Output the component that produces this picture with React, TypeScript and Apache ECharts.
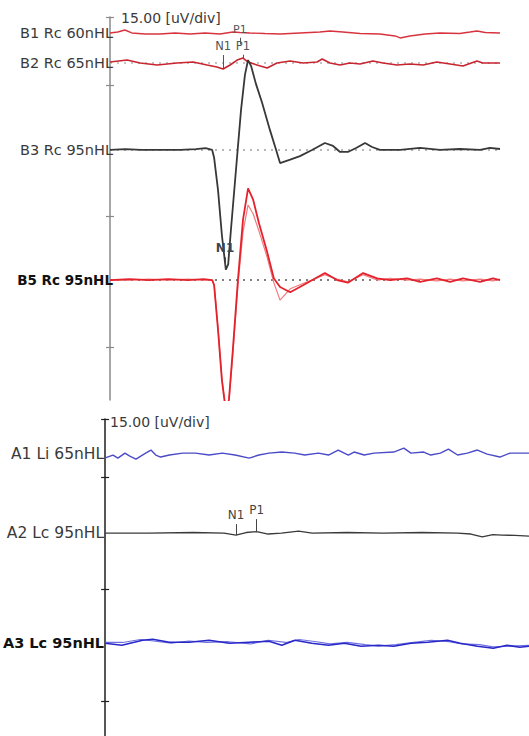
import React, { useEffect, useRef } from "react";
import * as echarts from "echarts";

// ---------- data (time in ms, amplitude in µV relative to each trace baseline, positive up) ----------
const SCALE_LABEL = "15.00 [uV/div]";

const TOP_TRACE_NAMES = ["B1 Rc 60nHL", "B2 Rc 65nHL", "B3 Rc 95nHL", "B5 Rc 95nHL"];
const TOP_BASELINES = [-1.83, -5.27, -15.23, -30.13];
const TOP_TICKS = [0, -7.8, -22.8, -37.8];
const TOP_RANGE = [-43.87, 0];
const TOP_TIME = [0, 10];

const BOTTOM_TRACE_NAMES = ["A1 Li 65nHL", "A2 Lc 95nHL", "A3 Lc 95nHL"];
const BOTTOM_BASELINES = [-4.69, -15.26, -29.99];
const BOTTOM_TICKS = [0, -7.75, -22.75, -37.75];
const BOTTOM_RANGE = [-42.4, 0];
const BOTTOM_TIME = [0, 9.62];

const B1: [number, number][] = [
  [0, 0], [0.2, 0.11], [0.38, 0.34], [0.56, 0], [0.9, -0.11], [1.28, -0.11], [1.67, 0], [2.05, -0.11],
  [2.44, 0], [2.82, -0.11], [3.15, 0.11], [3.33, 0.06], [3.59, 0], [3.97, -0.06], [4.36, -0.11], [4.87, 0],
  [5.38, 0.11], [5.64, 0.23], [5.97, 0.11], [6.41, -0.06], [6.92, -0.11], [7.31, -0.34], [7.44, -0.57],
  [7.69, -0.34], [8.08, -0.11], [8.46, 0], [8.97, -0.06], [9.23, 0.11], [9.41, 0.23], [9.62, 0.06], [10, 0],
];

const B2: [number, number][] = [
  [0, 0.11], [0.44, 0.34], [0.77, 0], [1.21, -0.23], [1.72, 0], [2.13, 0.11], [2.49, -0.23], [2.74, -0.46],
  [2.9, -0.69], [3.08, -0.23], [3.26, 0.34], [3.41, 0.57], [3.54, 0.11], [3.77, -0.23], [4.03, -0.57],
  [4.28, 0], [4.62, 0.23], [4.95, 0], [5.31, 0.11], [5.44, 0.46], [5.64, 0], [5.9, -0.23], [6.15, 0],
  [6.41, -0.11], [6.74, 0.23], [7.0, 0], [7.36, -0.23], [7.69, -0.11], [8.03, -0.23], [8.38, 0.11],
  [8.72, -0.11], [9.05, -0.34], [9.41, 0.23], [9.56, 0], [10, 0],
];

const B3: [number, number][] = [
  [0, 0], [0.4, 0.1], [0.8, 0], [1.3, 0], [1.8, 0], [2.2, 0.1], [2.45, 0.2], [2.62, 0], [2.67, -0.9],
  [2.77, -4.6], [2.87, -9.8], [2.97, -13.7], [3.03, -13.1], [3.1, -9.2], [3.23, -2.3], [3.36, 4.6],
  [3.46, 8.6], [3.54, 10.3], [3.62, 9.6], [3.74, 7.6], [3.9, 5.4], [4.1, 2.3], [4.26, 0], [4.36, -1.5],
  [4.62, -1.1], [4.87, -0.7], [5.18, 0], [5.51, 0.8], [5.72, 0.46], [5.9, -0.23], [6.1, -0.23],
  [6.31, 0.23], [6.54, 0.8], [6.72, 0.34], [6.92, 0], [7.44, 0], [7.95, 0.23], [8.46, 0], [8.97, 0.11],
  [9.49, 0], [9.74, 0.23], [10, 0.11],
];

const B5_RUN1: [number, number][] = [
  [0, 0], [0.5, 0.1], [1, 0], [1.5, 0.1], [2, 0], [2.4, 0.1], [2.62, 0], [2.67, -0.6], [2.77, -5.7],
  [2.87, -11.5], [2.97, -15.0], [3.05, -13.7], [3.15, -8.0], [3.28, 0], [3.41, 6.9], [3.54, 10.5],
  [3.67, 9.2], [3.82, 6.5], [4.03, 3.2], [4.2, 0.2], [4.36, -0.8], [4.62, -1.4], [4.95, -0.6],
  [5.51, 0.8], [5.82, 0], [6.1, -0.3], [6.49, 0.8], [6.85, 0.2], [7.18, 0], [7.62, 0.2], [7.95, -0.2],
  [8.38, 0.2], [8.72, -0.2], [9.05, 0.2], [9.49, -0.2], [9.82, 0.2], [10, 0],
];

const B5_RUN2: [number, number][] = [
  [0, 0], [0.5, 0], [1, 0.1], [1.5, 0], [2, 0.1], [2.4, 0], [2.62, 0], [2.67, -0.5], [2.77, -5.5],
  [2.87, -11.3], [2.97, -14.8], [3.05, -13.9], [3.15, -8.4], [3.28, -0.6], [3.41, 5.5], [3.54, 8.6],
  [3.67, 7.6], [3.82, 5.6], [4.03, 2.6], [4.2, -0.3], [4.36, -2.3], [4.62, -1.0], [4.95, -0.4],
  [5.51, 0.6], [5.82, 0.1], [6.1, -0.2], [6.49, 0.6], [6.85, 0], [7.18, 0.2], [7.62, 0], [7.95, 0.1],
  [8.38, -0.1], [8.72, 0.1], [9.05, -0.1], [9.49, 0.1], [9.82, -0.1], [10, 0.1],
];

const A1: [number, number][] = [
  [0, -0.5], [0.18, -0.13], [0.29, -0.54], [0.45, 0.13], [0.56, -0.27], [0.7, -0.67], [0.92, 0.13],
  [1.04, 0.54], [1.15, -0.13], [1.26, -0.4], [1.46, -0.13], [1.76, 0.13], [2.05, 0.13], [2.36, -0.13],
  [2.66, 0.13], [2.95, -0.13], [3.27, -0.54], [3.49, -0.13], [3.72, 0.13], [4.01, 0.27], [4.3, 0.13],
  [4.53, -0.13], [4.84, 0.13], [5.07, -0.13], [5.29, 0.54], [5.52, -0.13], [5.65, 0.27], [5.88, -0.13],
  [6.1, 0.13], [6.55, 0.27], [6.78, 0.8], [6.94, 0.13], [7.23, 0.27], [7.39, -0.13], [7.61, 0.13],
  [7.79, 0.67], [8.0, -0.13], [8.22, 0.13], [8.45, 0.54], [8.67, 0], [8.96, -0.4], [9.19, 0.13],
  [9.48, 0.13], [9.62, 0.13],
];

const A2: [number, number][] = [
  [0, 0], [1, 0], [2, 0.07], [2.7, 0], [2.97, -0.27], [3.2, 0.07], [3.44, 0.2], [3.7, -0.13], [4.0, 0],
  [4.39, 0.27], [4.7, 0], [5.5, 0.07], [6.3, 0], [7.2, 0.07], [8.0, 0], [8.3, -0.13], [8.56, -0.5],
  [8.8, -0.2], [9.0, -0.27], [9.3, -0.3], [9.62, -0.4],
];

const A3_RUN1: [number, number][] = [
  [0, 0], [0.38, -0.27], [0.85, 0.4], [1.08, 0.54], [1.46, 0.13], [1.91, 0.13], [2.36, 0.4], [2.82, 0],
  [3.27, 0.13], [3.72, 0.27], [4.01, -0.27], [4.31, 0.4], [4.69, 0], [5.07, -0.27], [5.43, 0],
  [5.81, -0.4], [6.2, -0.27], [6.55, -0.4], [6.94, 0], [7.32, 0.13], [7.77, 0.4], [8.06, 0],
  [8.45, -0.4], [8.81, -0.67], [9.12, -0.27], [9.41, -0.54], [9.62, -0.4],
];

const A3_RUN2: [number, number][] = [
  [0, 0.1], [0.4, 0.1], [0.8, 0.5], [1.1, 0.3], [1.5, 0], [1.9, 0.3], [2.3, 0.1], [2.8, 0.2], [3.3, -0.1],
  [3.7, 0.4], [4.1, 0.1], [4.4, 0.5], [4.8, 0.2], [5.1, -0.1], [5.5, 0.1], [5.9, -0.2], [6.2, -0.4],
  [6.6, -0.2], [7.0, 0.1], [7.4, 0.4], [7.8, 0.2], [8.1, -0.1], [8.5, -0.2], [8.8, -0.5], [9.2, -0.4],
  [9.62, -0.3],
];

// peak markers: [label, latency ms, tick from µV, tick to µV] (relative to trace baseline)
const B1_PEAKS: [string, number, number, number][] = [["P1", 3.33, -1.3, -0.55]];
const B2_PEAKS: [string, number, number, number][] = [["N1", 2.9, -0.69, 0.92], ["P1", 3.41, 0.57, 0.95]];
const B3_PEAKS: [string, number, number, number][] = [["N1", 2.95, -13.7, -12.3]];
const A2_PEAKS: [string, number, number, number][] = [["N1", 2.97, -0.27, 1.2], ["P1", 3.44, 0.13, 1.87]];

const FONT = "DejaVu Sans";

function shift(data: [number, number][], base: number) {
  return data.map(([t, v]) => [t, v + base]);
}

function markers(peaks: [string, number, number, number][], base: number, color: string, bold = false, size = 12) {
  return {
    silent: true,
    symbol: ["none", "none"],
    animation: false,
    lineStyle: { color, width: 1, type: "solid" },
    label: {
      show: true,
      position: "end",
      distance: 3,
      formatter: "{b}",
      color,
      fontSize: size,
      fontFamily: FONT,
      fontWeight: bold ? "bold" : "normal",
    },
    emphasis: { disabled: true },
    data: peaks.map(([name, t, a, b]) => [
      { name, coord: [t, a + base] },
      { coord: [t, b + base] },
    ]),
  };
}

function trace(
  data: [number, number][],
  base: number,
  color: string,
  width: number,
  axis: number,
  z = 3,
  extra: any = {}
) {
  return {
    type: "line",
    xAxisIndex: axis,
    yAxisIndex: axis * 2,
    data: shift(data, base),
    showSymbol: false,
    symbol: "none",
    silent: true,
    z,
    lineStyle: { color, width },
    ...extra,
  };
}

function baseline(base: number, range: number[], color: string, axis: number) {
  return {
    type: "line",
    xAxisIndex: axis,
    yAxisIndex: axis * 2,
    data: [
      [range[0], base],
      [range[1], base],
    ],
    showSymbol: false,
    symbol: "none",
    silent: true,
    z: 1,
    lineStyle: { color, width: 1.5, type: [2, 5] },
  };
}

function yAxes(
  grid: number,
  range: number[],
  ticks: number[],
  baselines: number[],
  names: string[],
  lineColor: string,
  margin: number,
  size: number,
  boldSize: number
) {
  const fmt = (v: number) => {
    let idx = 0;
    let best = Infinity;
    baselines.forEach((b, i) => {
      const d = Math.abs(b - v);
      if (d < best) {
        best = d;
        idx = i;
      }
    });
    const text = names[idx];
    return idx === names.length - 1 ? `{b|${text}}` : `{n|${text}}`;
  };
  return [
    {
      type: "value",
      gridIndex: grid,
      min: range[0],
      max: range[1],
      splitLine: { show: false },
      axisLine: { show: true, lineStyle: { color: lineColor, width: 1.5 } },
      axisTick: { show: true, inside: false, length: 4, customValues: ticks, lineStyle: { color: lineColor, width: 1.2 } },
      axisLabel: {
        show: true,
        customValues: baselines,
        margin,
        formatter: fmt,
        rich: {
          n: { fontFamily: FONT, fontSize: size, color: "#3a3a3a" },
          b: { fontFamily: FONT, fontSize: boldSize, color: "#111111", fontWeight: "bold" },
        },
      },
    },
    {
      type: "value",
      gridIndex: grid,
      min: range[0],
      max: range[1],
      position: "left",
      offset: 0,
      splitLine: { show: false },
      axisLine: { show: false },
      axisTick: { show: true, inside: true, length: 4, customValues: ticks, lineStyle: { color: lineColor, width: 1.2 } },
      axisLabel: { show: false },
    },
  ];
}

export default function App() {
  const ref = useRef<HTMLDivElement>(null);

  useEffect(() => {
    if (!ref.current) return;
    const chart = echarts.init(ref.current, undefined, { renderer: "svg" });

    const [b1, b2, b3, b5] = TOP_BASELINES;
    const [a1, a2, a3] = BOTTOM_BASELINES;

    const option: any = {
      animation: false,
      backgroundColor: "#ffffff",
      textStyle: { fontFamily: FONT },
      grid: [
        { left: 110, top: 17, right: 29, bottom: 336 },
        { left: 102, top: 419, right: 0, bottom: 0 },
      ],
      xAxis: [
        { type: "value", gridIndex: 0, min: TOP_TIME[0], max: TOP_TIME[1], show: false },
        { type: "value", gridIndex: 1, min: BOTTOM_TIME[0], max: BOTTOM_TIME[1], show: false },
      ],
      yAxis: [
        ...yAxes(0, TOP_RANGE, TOP_TICKS, TOP_BASELINES, TOP_TRACE_NAMES, "#8a8a8a", -3, 14.5, 13.5),
        ...yAxes(1, BOTTOM_RANGE, BOTTOM_TICKS, BOTTOM_BASELINES, BOTTOM_TRACE_NAMES, "#1e1e1e", 1, 15.5, 14.5),
      ],
      graphic: [
        {
          type: "text",
          left: 121,
          top: 11,
          style: { text: SCALE_LABEL, fontFamily: FONT, fontSize: 14, fill: "#3a3a3a" },
        },
        {
          type: "text",
          left: 110,
          top: 415,
          style: { text: SCALE_LABEL, fontFamily: FONT, fontSize: 14, fill: "#3a3a3a" },
        },
      ],
      series: [
        baseline(b2, TOP_TIME, "#b0b0b0", 0),
        baseline(b3, TOP_TIME, "#a0a0a0", 0),
        baseline(b5, TOP_TIME, "#555555", 0),
        trace(B1, b1, "#d8343e", 1.4, 0, 3, { markLine: markers(B1_PEAKS, b1, "#555555", false, 11) }),
        trace(B2, b2, "#c82530", 1.6, 0, 3, { markLine: markers(B2_PEAKS, b2, "#555555", false, 11.5) }),
        trace(B3, b3, "#383838", 1.8, 0, 4, { markLine: markers(B3_PEAKS, b3, "#3c4450", true) }),
        trace(B5_RUN2, b5, "#f07a7e", 1.2, 0, 3),
        trace(B5_RUN1, b5, "#e4222c", 1.8, 0, 3),
        trace(A1, a1, "#4b4bc8", 1.4, 1, 3),
        trace(A2, a2, "#3a3a3a", 1.4, 1, 3, { markLine: markers(A2_PEAKS, a2, "#444444") }),
        trace(A3_RUN2, a3, "#6f6fe0", 1.2, 1, 3),
        trace(A3_RUN1, a3, "#2828c8", 1.6, 1, 3),
      ],
    };

    chart.setOption(option);
    return () => chart.dispose();
  }, []);

  return (
    <div
      ref={ref}
      style={{ position: "fixed", left: 0, top: 0, width: 529, height: 736, background: "#fff" }}
    />
  );
}
